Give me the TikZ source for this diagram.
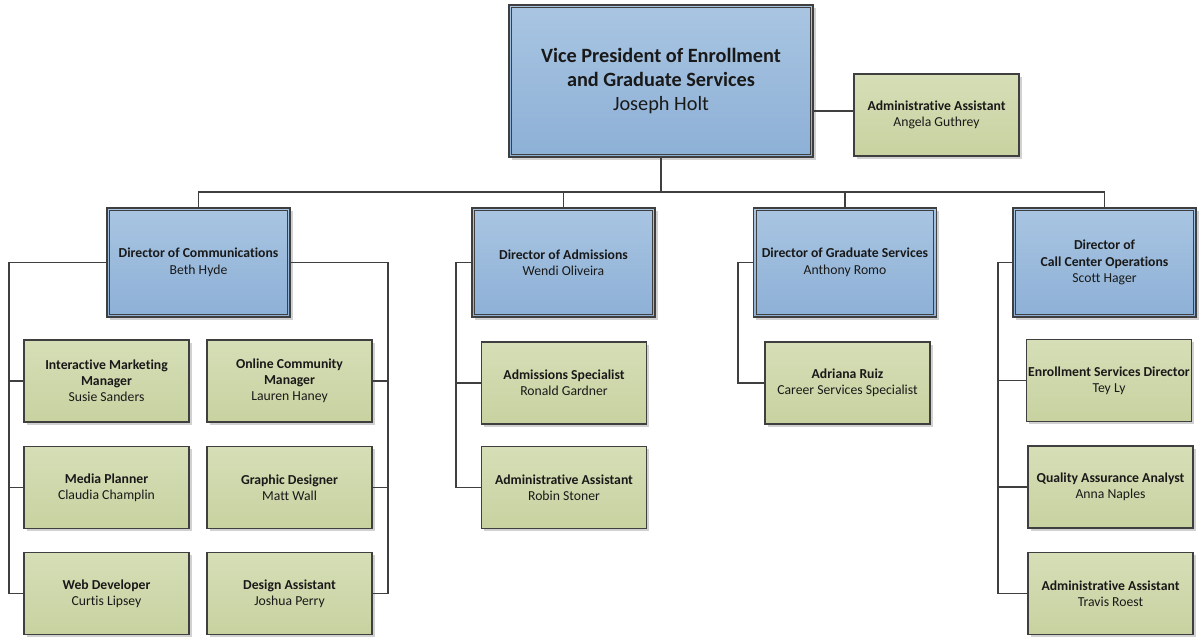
\documentclass[tikz,border=0pt]{standalone}
\usepackage{fontspec}
\setmainfont{Carlito}[RawFeature={-liga}]
\usetikzlibrary{shadows}
\definecolor{bluetop}{HTML}{A9C5E2}
\definecolor{bluebot}{HTML}{8DB0D6}
\definecolor{greentop}{HTML}{D6DEB7}
\definecolor{greenbot}{HTML}{C8D2A0}
\definecolor{edge}{HTML}{3F3F3F}
\tikzset{
  basebox/.style={rectangle, draw=edge, line width=1.2pt, inner sep=0pt, align=center,
    text=black!90, drop shadow={shadow xshift=2.5pt, shadow yshift=-2.5pt, fill=black!30, opacity=0.6}},
  vpbox/.style={basebox, top color=bluetop, bottom color=bluebot, minimum width=304pt, minimum height=152pt,
    font=\fontsize{20.3}{24}\selectfont},
  dirbox/.style={basebox, top color=bluetop, bottom color=bluebot, minimum width=183pt, minimum height=109pt,
    font=\fontsize{13.7}{16.5}\selectfont},
  staffbox/.style={basebox, top color=greentop, bottom color=greenbot, minimum width=165pt, minimum height=82pt,
    font=\fontsize{13.7}{16}\selectfont},
  link/.style={draw=edge, line width=1.6pt},
  inner/.style={draw=edge, line width=0.9pt}
}
\newcommand{\innerframe}[1]{\draw[inner] ([shift={(3.5pt,-3.5pt)}]#1.north west) rectangle ([shift={(-3.5pt,3.5pt)}]#1.south east);}
\begin{document}
\begin{tikzpicture}[x=1pt,y=-1pt]
\useasboundingbox (0,0) rectangle (1199,637);

\coordinate (bus) at (661,192);

% top
\node[vpbox] (vp) at (661,81) {\textbf{Vice President of Enrollment}\\\textbf{and Graduate Services}\\Joseph Holt};
\innerframe{vp}
\node[staffbox] (aa) at (936.5,115) {\textbf{Administrative Assistant}\\Angela Guthrey};

% directors
\node[dirbox] (dc) at (198.5,262.5) {\textbf{Director of Communications}\\Beth Hyde};
\node[dirbox] (da) at (563.5,262.5) {\textbf{Director of Admissions}\\Wendi Oliveira};
\node[dirbox] (dg) at (845,262.5) {\textbf{Director of Graduate Services}\\Anthony Romo};
\node[dirbox] (dcc) at (1104.5,262.5) {\textbf{Director of}\\\textbf{Call Center Operations}\\Scott Hager};
\foreach \n in {dc,da,dg,dcc} {\innerframe{\n}}

% communications staff
\node[staffbox] (im) at (106.5,381) {\textbf{Interactive Marketing}\\\textbf{Manager}\\Susie Sanders};
\node[staffbox] (mp) at (106.5,487.5) {\textbf{Media Planner}\\Claudia Champlin};
\node[staffbox] (wd) at (106.5,593.5) {\textbf{Web Developer}\\Curtis Lipsey};
\node[staffbox] (oc) at (289.5,381) {\textbf{Online Community}\\\textbf{Manager}\\Lauren Haney};
\node[staffbox] (gd) at (289.5,487.5) {\textbf{Graphic Designer}\\Matt Wall};
\node[staffbox] (ds) at (289.5,593.5) {\textbf{Design Assistant}\\Joshua Perry};

% admissions staff
\node[staffbox] (as) at (564,383) {\textbf{Admissions Specialist}\\Ronald Gardner};
\node[staffbox] (ar) at (564,487.5) {\textbf{Administrative Assistant}\\Robin Stoner};

% graduate staff
\node[staffbox] (cs) at (847.5,383) {\textbf{Adriana Ruiz}\\Career Services Specialist};

% call center staff
\node[staffbox] (es) at (1109,380.5) {\textbf{Enrollment Services Director}\\Tey Ly};
\node[staffbox] (qa) at (1110.5,487) {\textbf{Quality Assurance Analyst}\\Anna Naples};
\node[staffbox] (at) at (1110.5,593.5) {\textbf{Administrative Assistant}\\Travis Roest};

% connectors
\draw[link] (vp.south) -- (bus);
\draw[link] (dc.north) |- (bus) -| (dcc.north);
\draw[link] (da.north) -- (da.north |- bus);
\draw[link] (dg.north) -- (dg.north |- bus);
\draw[link] ([yshift=4pt]aa.west -| vp.east) -- ([yshift=4pt]aa.west);

% communications
\draw[link] (dc.west) -- (dc.west -| 9,0) |- (wd.west);
\draw[link] (im.west -| 9,0) -- (im.west);
\draw[link] (mp.west -| 9,0) -- (mp.west);
\draw[link] (dc.east) -- (dc.east -| 388,0) |- (ds.east);
\draw[link] (oc.east -| 388,0) -- (oc.east);
\draw[link] (gd.east -| 388,0) -- (gd.east);

% admissions
\draw[link] (da.west) -- (da.west -| 456,0) |- (ar.west);
\draw[link] (as.west -| 456,0) -- (as.west);

% graduate
\draw[link] (dg.west) -- (dg.west -| 738,0) |- (cs.west);

% call center
\draw[link] (dcc.west) -- (dcc.west -| 998,0) |- (at.west);
\draw[link] (es.west -| 998,0) -- (es.west);
\draw[link] (qa.west -| 998,0) -- (qa.west);
\end{tikzpicture}
\end{document}
